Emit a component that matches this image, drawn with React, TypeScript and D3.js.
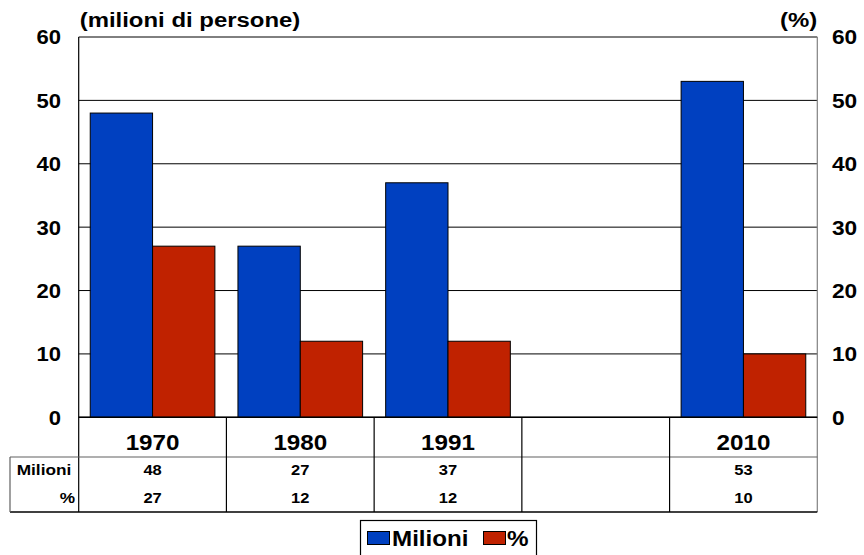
import React from "react";
import * as d3 from "d3";

const categories = ["1970", "1980", "1991", "", "2010"];
const milioni: (number | null)[] = [48, 27, 37, null, 53];
const percent: (number | null)[] = [27, 12, 12, null, 10];
const yTicks = [0, 10, 20, 30, 40, 50, 60];
const seriesNames = ["Milioni", "%"];
const rowLabels = ["Milioni", "%"];

const W = 864;
const H = 555;
const left = 78.7;
const right = 817.3;
const top = 37;
const bottom = 417.3;
const BLUE = "#0040C0";
const RED = "#C02200";
const FONT = "'Liberation Sans', Arial, sans-serif";

function T(props: { x: number; y: number; size: number; sx?: number; anchor?: "start" | "middle" | "end"; children: React.ReactNode }) {
  const { x, y, size, sx = 1.12, anchor = "start", children } = props;
  return (
    <text transform={`translate(${x},${y}) scale(${sx},1)`} textAnchor={anchor} fontSize={size} fontWeight="bold" dy="0.35em" fill="#000">
      {children}
    </text>
  );
}

export default function App() {
  const x = d3.scaleBand<string>().domain(categories.map((c, i) => String(i))).range([left, right]).paddingInner(0).paddingOuter(0);
  const inner = d3.scaleBand<string>().domain(["0", "1"]).range([0, x.bandwidth()]).paddingOuter(0.185).paddingInner(0);
  const y = d3.scaleLinear().domain([0, 60]).range([bottom, top]);
  const rowHeaderBottom = 457;
  const tableBottom = 512;
  const rowY = [470, 498];
  const series = [milioni, percent];
  const colors = [BLUE, RED];
  const cx = (i: number) => (x(String(i)) as number) + x.bandwidth() / 2;

  return (
    <svg width={W} height={H} style={{ position: "absolute", left: 0, top: 0, background: "#fff" }} fontFamily={FONT}>
      {yTicks.map((t) => (
        <line key={"g" + t} x1={left} x2={right} y1={y(t)} y2={y(t)} stroke="#000" strokeWidth={1} />
      ))}
      {categories.map((c, i) =>
        series.map((s, k) => {
          const v = s[i];
          if (v == null) return null;
          const bx = (x(String(i)) as number) + (inner(String(k)) as number);
          return (
            <rect key={`b${i}-${k}`} x={bx} y={y(v)} width={inner.bandwidth()} height={y(0) - y(v)} fill={colors[k]} stroke="#000" strokeWidth={1} />
          );
        })
      )}
      <line x1={right} x2={right} y1={top} y2={tableBottom} stroke="#808080" strokeWidth={1.2} />
      <line x1={left} x2={left} y1={top} y2={tableBottom} stroke="#000" strokeWidth={1.2} />
      <line x1={left} x2={right} y1={bottom} y2={bottom} stroke="#000" strokeWidth={1.5} />
      {yTicks.map((t) => (
        <T key={"l" + t} x={61} y={y(t)} size={21} sx={1.05} anchor="end">{t}</T>
      ))}
      {yTicks.map((t) => (
        <T key={"r" + t} x={832} y={y(t)} size={21} sx={1.08} anchor="start">{t}</T>
      ))}
      <T x={left + 1} y={20} size={21} sx={1.14}>(milioni di persone)</T>
      <T x={right} y={20} size={21} sx={1.14} anchor="end">(%)</T>
      <line x1={10} x2={right} y1={rowHeaderBottom} y2={rowHeaderBottom} stroke="#606060" strokeWidth={1.2} />
      <line x1={10} x2={right} y1={tableBottom} y2={tableBottom} stroke="#000" strokeWidth={1.5} />
      <line x1={10} x2={10} y1={rowHeaderBottom} y2={tableBottom} stroke="#606060" strokeWidth={1.2} />
      {categories.map((c, i) =>
        i > 0 ? (
          <line key={"v" + i} x1={x(String(i))} x2={x(String(i))} y1={bottom} y2={tableBottom} stroke="#000" strokeWidth={1.2} />
        ) : null
      )}
      {categories.map((c, i) => (
        <T key={"c" + i} x={cx(i)} y={442} size={22} sx={1.1} anchor="middle">{c}</T>
      ))}
      <T x={44} y={rowY[0]} size={15} sx={1.15} anchor="middle">{rowLabels[0]}</T>
      <T x={75} y={rowY[1]} size={15} sx={1.15} anchor="end">{rowLabels[1]}</T>
      {series.map((s, k) =>
        s.map((v, i) =>
          v == null ? null : (
            <T key={`t${k}-${i}`} x={cx(i)} y={rowY[k]} size={15} sx={1.1} anchor="middle">{v}</T>
          )
        )
      )}
      <rect x={360.5} y={520.5} width={176} height={36} fill="#fff" stroke="#000" strokeWidth={1.2} />
      <rect x={367.5} y={531.5} width={22} height={13} fill={BLUE} stroke="#000" strokeWidth={1} />
      <T x={392} y={538} size={22} sx={1.1}>{seriesNames[0]}</T>
      <rect x={483.5} y={531.5} width={22} height={13} fill={RED} stroke="#000" strokeWidth={1} />
      <T x={507} y={538} size={22} sx={1.1}>{seriesNames[1]}</T>
    </svg>
  );
}
